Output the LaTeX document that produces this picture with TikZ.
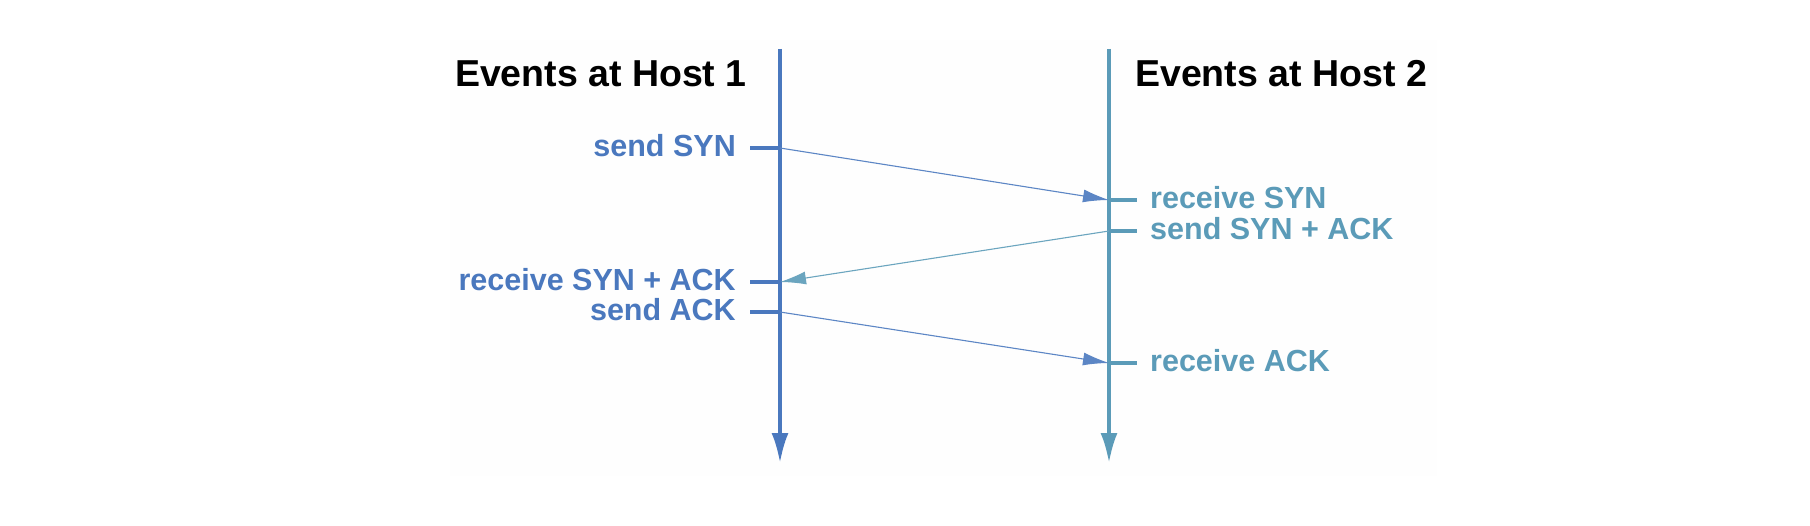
\documentclass[tikz,border=0pt]{standalone}
\usepackage{fontspec}
\setmainfont{Liberation Sans}
\usetikzlibrary{arrows.meta,positioning}
\definecolor{hostone}{HTML}{4A78BE}
\definecolor{hosttwo}{HTML}{5B9BB8}
\definecolor{panel}{HTML}{FEFEFE}
\begin{document}
\begin{tikzpicture}[x=1pt, y=-1pt,
        title/.style = {font=\bfseries\fontsize{37.5}{42}\selectfont, inner sep=0pt},
        evone/.style = {font=\bfseries\fontsize{30.5}{34}\selectfont, text=hostone, inner sep=0pt, anchor=base east},
        evtwo/.style = {font=\bfseries\fontsize{30.5}{34}\selectfont, text=hosttwo, inner sep=0pt, anchor=base west},
        life/.style = {line width=3.5pt, -{Latex[length=30pt,width=17pt]}},
        tickmark/.style = {line width=3.5pt},
        msg/.style = {line width=1.1pt, -{Latex[length=26pt,width=13pt]}}]
        \useasboundingbox (0,0) rectangle (1810,526);
        \fill[panel] (450,40) rectangle (1437,476);
        % time lines
        \coordinate (h1top) at (780,49);
        \coordinate (h1bot) at (780,463);
        \coordinate (h2top) at (1109,49);
        \coordinate (h2bot) at (1109,463);
        \draw[life, hostone] (h1top) -- (h1bot);
        \draw[life, hosttwo] (h2top) -- (h2bot);
        \node[title, anchor=base east] (t1) at (747,87) {Events at Host 1};
        \node[title, anchor=base west] (t2) at (1135,87) {Events at Host 2};
        % events on host 1
        \coordinate (a1) at (780,148);
        \coordinate (a2) at (780,282);
        \coordinate (a3) at (780,312);
        \node[evone] (sendsyn) at (736,157) {send SYN};
        \node[evone] (recvsynack) at (736,291) {receive SYN + ACK};
        \node[evone] (sendack) at (736,321) {send ACK};
        \coordinate (ta1) at (750,148);
        \coordinate (ta2) at (750,282);
        \coordinate (ta3) at (750,312);
        \draw[tickmark, hostone] (ta1) -- (a1);
        \draw[tickmark, hostone] (ta2) -- (a2);
        \draw[tickmark, hostone] (ta3) -- (a3);
        % events on host 2
        \coordinate (b1) at (1109,200);
        \coordinate (b2) at (1109,231);
        \coordinate (b3) at (1109,363);
        \node[evtwo] (recvsyn) at (1150,209) {receive SYN};
        \node[evtwo] (sendsynack) at (1150,240) {send SYN + ACK};
        \node[evtwo] (recvack) at (1150,372) {receive ACK};
        \coordinate (tb1) at (1137,200);
        \coordinate (tb2) at (1137,231);
        \coordinate (tb3) at (1137,363);
        \draw[tickmark, hosttwo] (b1) -- (tb1);
        \draw[tickmark, hosttwo] (b2) -- (tb2);
        \draw[tickmark, hosttwo] (b3) -- (tb3);
        % messages
        \draw[msg, hostone!90] (a1) -- (b1);
        \draw[msg, hosttwo!90] (b2) -- (a2);
        \draw[msg, hostone!90] (a3) -- (b3);
    \end{tikzpicture}
\end{document}
